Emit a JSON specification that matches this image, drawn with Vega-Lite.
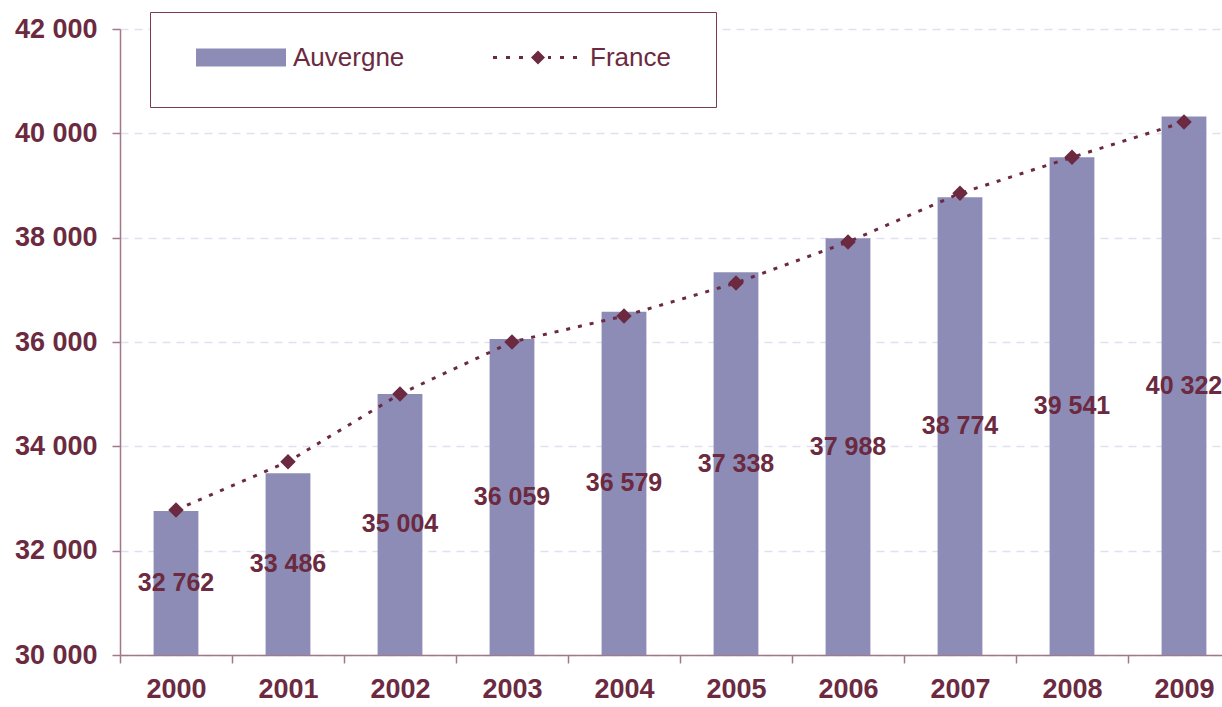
{
  "$schema": "https://vega.github.io/schema/vega-lite/v6.json",
  "width": 1102,
  "height": 626,
  "autosize": {"type": "none"},
  "padding": {"left": 120, "top": 29, "right": 0, "bottom": 52},
  "config": {
    "view": {"stroke": null},
    "font": "Liberation Sans",
    "locale": {"number": {"decimal": ",", "thousands": " ", "grouping": [3], "currency": ["", " €"]}}
  },
  "data": {"values": [
    {"year": "2000", "Auvergne": 32762, "France": 32780},
    {"year": "2001", "Auvergne": 33486, "France": 33705},
    {"year": "2002", "Auvergne": 35004, "France": 35003},
    {"year": "2003", "Auvergne": 36059, "France": 36000},
    {"year": "2004", "Auvergne": 36579, "France": 36498},
    {"year": "2005", "Auvergne": 37338, "France": 37131},
    {"year": "2006", "Auvergne": 37988, "France": 37917},
    {"year": "2007", "Auvergne": 38774, "France": 38850},
    {"year": "2008", "Auvergne": 39541, "France": 39540},
    {"year": "2009", "Auvergne": 40322, "France": 40217}
  ]},
  "layer": [
    {
      "layer": [
        {
          "mark": {"type": "bar", "width": {"band": 0.4}},
          "encoding": {
            "x": {
              "field": "year", "type": "ordinal",
              "scale": {"range": [0, 1120], "paddingInner": 0, "paddingOuter": 0},
              "axis": {
                "title": null, "labelAngle": 0, "labelFontSize": 27, "labelFontWeight": "bold",
                "labelColor": "#6b2a40", "domainColor": "#a07888", "tickColor": "#a07888",
                "tickSize": 8, "tickBand": "extent", "labelPadding": 13, "grid": false,
                "domainWidth": 1.5, "tickWidth": 1.5
              }
            },
            "y": {
              "field": "Auvergne", "type": "quantitative",
              "scale": {"domain": [30000, 42000], "nice": false, "zero": false},
              "axis": {
                "title": null, "values": [30000, 32000, 34000, 36000, 38000, 40000, 42000],
                "format": ",d", "labelFontSize": 27, "labelFontWeight": "bold", "labelColor": "#6b2a40",
                "domainColor": "#a07888", "tickColor": "#a07888", "tickSize": 8, "labelPadding": 15,
                "domainWidth": 1.5, "tickWidth": 1.5,
                "grid": true, "gridColor": "#e2e0ee", "gridDash": [8, 6], "gridWidth": 1.5
              }
            },
            "y2": {"datum": 30000},
            "color": {
              "datum": "Auvergne", "type": "nominal",
              "scale": {"domain": ["Auvergne", "France"], "range": ["#8d8cb6", "#6b2a40"]},
              "legend": {
                "title": null, "orient": "none", "legendX": 30, "legendY": -17,
                "direction": "horizontal", "columns": 2, "padding": 2,
                "strokeColor": "#7a3a52", "fillColor": "white",
                "labelFontSize": 26, "labelColor": "#6b2a40", "labelFont": "Liberation Sans",
                "labelOffset": 50, "columnPadding": 44, "symbolSize": 8281, "symbolStrokeWidth": 0,
                "encode": {
                  "symbols": {
                    "update": {
                      "shape": {"signal": "datum.value === 'Auvergne' ? 'M-0.033,-0.242H1.945V0.154H-0.033Z M0,1Z' : 'M-0.033,-0.077H0.055V-0.011H-0.033Z M0.253,-0.077H0.341V-0.011H0.253Z M0.538,-0.077H0.626V-0.011H0.538Z M0.802,-0.044L0.956,-0.198L1.110,-0.044L0.956,0.110Z M1.176,-0.077H1.242V-0.011H1.176Z M1.440,-0.077H1.527V-0.011H1.440Z M1.725,-0.077H1.813V-0.011H1.725Z M0,1Z M4.824,0Z'"},
                      "fill": {"signal": "datum.value === 'Auvergne' ? '#8d8cb6' : '#6b2a40'"},
                      "stroke": {"value": "transparent"},
                      "strokeWidth": {"value": 0},
                      "opacity": {"value": 1}
                    }
                  },
                  "labels": {
                    "update": {"dy": {"value": -2}}
                  }
                }
              }
            }
          }
        },
        {
          "mark": {"type": "line", "strokeDash": [4, 8], "strokeWidth": 3},
          "encoding": {
            "x": {"field": "year", "type": "ordinal"},
            "y": {"field": "France", "type": "quantitative"},
            "color": {"datum": "France", "type": "nominal"}
          }
        },
        {
          "mark": {"type": "point", "shape": "diamond", "filled": true, "size": 240, "opacity": 1},
          "encoding": {
            "x": {"field": "year", "type": "ordinal"},
            "y": {"field": "France", "type": "quantitative"},
            "color": {"datum": "France", "type": "nominal"}
          }
        }
      ]
    },
    {
      "mark": {"type": "text", "fontSize": 25, "fontWeight": "bold", "color": "#6b2a40", "align": "center", "baseline": "middle"},
      "encoding": {
        "x": {"field": "year", "type": "ordinal"},
        "y": {"field": "Auvergne", "type": "quantitative", "scale": {"domain": [30000, 54000], "nice": false, "zero": false}, "axis": null},
        "text": {"field": "Auvergne", "type": "quantitative", "format": ",d"}
      }
    }
  ],
  "resolve": {"scale": {"y": "independent"}}
}
